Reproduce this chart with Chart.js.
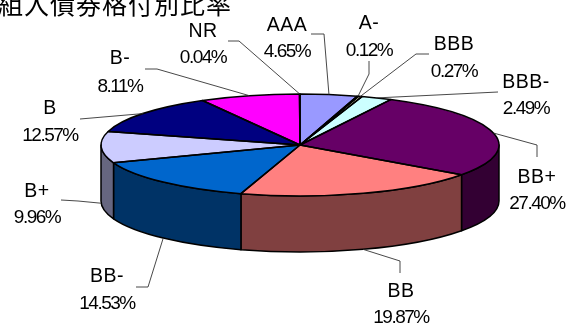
<!DOCTYPE html>
<html>
<head>
<meta charset="utf-8">
<title>組入債券格付別比率</title>
<script src="https://cdn.jsdelivr.net/npm/chart.js@4"></script>
<style>
    html, body { margin: 0; padding: 0; background: #fff; }
    canvas { display: block; }
</style>
</head>
<body>
<canvas id="ratingChart" width="566" height="324"></canvas>
<script>
// ===== DATA =====
const titleText = '組入債券格付別比率';
const ratings = ['AAA', 'A-', 'BBB', 'BBB-', 'BB+', 'BB', 'BB-', 'B+', 'B', 'B-', 'NR'];
const shares = [4.65, 0.12, 0.27, 2.49, 27.40, 19.87, 14.53, 9.96, 12.57, 8.11, 0.04];
const topColors = ['#9999ff', '#993366', '#ffffcc', '#ccffff', '#660066', '#ff8080', '#0066cc', '#ccccff', '#000080', '#ff00ff', '#ffff00'];
const sideColors = ['#4d4d80', '#4d1a33', '#808066', '#668080', '#330033', '#804040', '#003366', '#666680', '#000040', '#800080', '#808000'];

// label centre x, name baseline, percent baseline
const labelSpots = [
    [287, 31, 57], [369, 29, 56], [454, 50, 77], [526, 88, 114],
    [537, 183, 209], [401, 297, 323], [107, 282, 309], [37, 197, 223],
    [50, 114, 141], [120, 64, 92], [203, 37, 63]
];
// leader line bends, from the pie edge out to the label
const leaderBends = [
    [[324, 34], [311, 34]], [[369, 74], [369, 61]], [[416, 54], [429, 54]], [[498, 92]],
    [[537, 145], [537, 157]], [[400, 261], [400, 273]], [[148, 287], [136, 287]], [[78, 201], [61, 200]],
    [[80, 119]], [[157, 69], [145, 69]], [[239, 41], [228, 41]]
];

// Pie squashed into an ellipse with a wall below it
const pieShape = { cx: 300, cy: 145, rx: 199, ry: 51, depth: 56 };

function slicePath(ctx, start, end) {
    ctx.beginPath();
    ctx.moveTo(pieShape.cx, pieShape.cy);
    ctx.ellipse(pieShape.cx, pieShape.cy, pieShape.rx, pieShape.ry, 0, start, end);
    ctx.closePath();
}

// Only the part of a slice between 0 and PI faces the viewer
function drawWall(ctx, arc, color) {
    const start = Math.max(arc.startAngle, 0);
    const end = Math.min(arc.endAngle, Math.PI);
    if (end <= start) return;
    const { cx, cy, rx, ry, depth } = pieShape;
    ctx.beginPath();
    ctx.ellipse(cx, cy, rx, ry, 0, start, end);
    ctx.ellipse(cx, cy + depth, rx, ry, 0, end, start, true);
    ctx.closePath();
    ctx.fillStyle = color;
    ctx.fill();
    ctx.stroke();
}

function edgePoint(arc) {
    const mid = (arc.startAngle + arc.endAngle) / 2;
    const wrapped = Math.atan2(Math.sin(mid), Math.cos(mid));
    const x = pieShape.cx + pieShape.rx * Math.cos(mid);
    let y = pieShape.cy + pieShape.ry * Math.sin(mid);
    if (wrapped > 0) y += pieShape.depth;
    return [x, y];
}

const pie3d = {
    id: 'pie3d',
    beforeDatasetsDraw(chart) {
        const { ctx } = chart;
        const arcs = chart.getDatasetMeta(0).data;
        ctx.save();
        ctx.strokeStyle = '#000';
        ctx.lineWidth = 1.5;
        ctx.lineJoin = 'round';
        // outer walls; slices past a full turn are tried one turn back as well
        arcs.forEach((arc, i) => {
            const start = arc.startAngle, end = arc.endAngle;
            drawWall(ctx, { startAngle: start, endAngle: end }, sideColors[i]);
            drawWall(ctx, { startAngle: start - Math.PI * 2, endAngle: end - Math.PI * 2 }, sideColors[i]);
        });
        ctx.restore();

        // top face: the arcs themselves, pressed flat
        const first = arcs[0];
        ctx.save();
        ctx.translate(pieShape.cx, pieShape.cy);
        ctx.scale(pieShape.rx / first.outerRadius, pieShape.ry / first.outerRadius);
        ctx.translate(-first.x, -first.y);
    },
    afterDatasetsDraw(chart) {
        const { ctx } = chart;
        ctx.restore();
        const arcs = chart.getDatasetMeta(0).data;

        ctx.save();
        ctx.strokeStyle = '#000';
        ctx.lineWidth = 1.5;
        ctx.lineJoin = 'round';
        arcs.forEach(arc => {
            slicePath(ctx, arc.startAngle, arc.endAngle);
            ctx.stroke();
        });
        ctx.restore();

        // leader lines
        ctx.save();
        ctx.strokeStyle = '#333';
        ctx.lineWidth = 0.9;
        arcs.forEach((arc, i) => {
            const [x, y] = edgePoint(arc);
            ctx.beginPath();
            ctx.moveTo(x, y);
            leaderBends[i].forEach(p => ctx.lineTo(p[0], p[1]));
            ctx.stroke();
        });
        ctx.restore();

        // labels and heading
        ctx.save();
        ctx.fillStyle = '#000';
        ctx.textAlign = 'center';
        ctx.textBaseline = 'alphabetic';
        ratings.forEach((name, i) => {
            const [x, nameY, pctY] = labelSpots[i];
            ctx.font = '19.5px "Liberation Sans"';
            ctx.letterSpacing = '0.5px';
            ctx.fillText(name, x, nameY);
            ctx.font = '19px "Liberation Sans"';
            ctx.letterSpacing = '-1.5px';
            ctx.fillText(shares[i].toFixed(2) + '%', x, pctY);
        });
        ctx.textAlign = 'left';
        ctx.font = '25px "Noto Sans CJK JP"';
        ctx.letterSpacing = '1px';
        ctx.fillText(titleText, -2, 14);
        ctx.restore();
    }
};

// ===== CHART INITIALIZATION =====
const ratingChart = new Chart(document.getElementById('ratingChart'), {
    type: 'pie',
    data: {
        labels: ratings,
        datasets: [{
            data: shares,
            backgroundColor: topColors,
            borderWidth: 0
        }]
    },
    options: {
        responsive: false,
        animation: false,
        plugins: {
            legend: { display: false },
            tooltip: { enabled: false }
        }
    },
    plugins: [pie3d]
});
</script>
</body>
</html>
